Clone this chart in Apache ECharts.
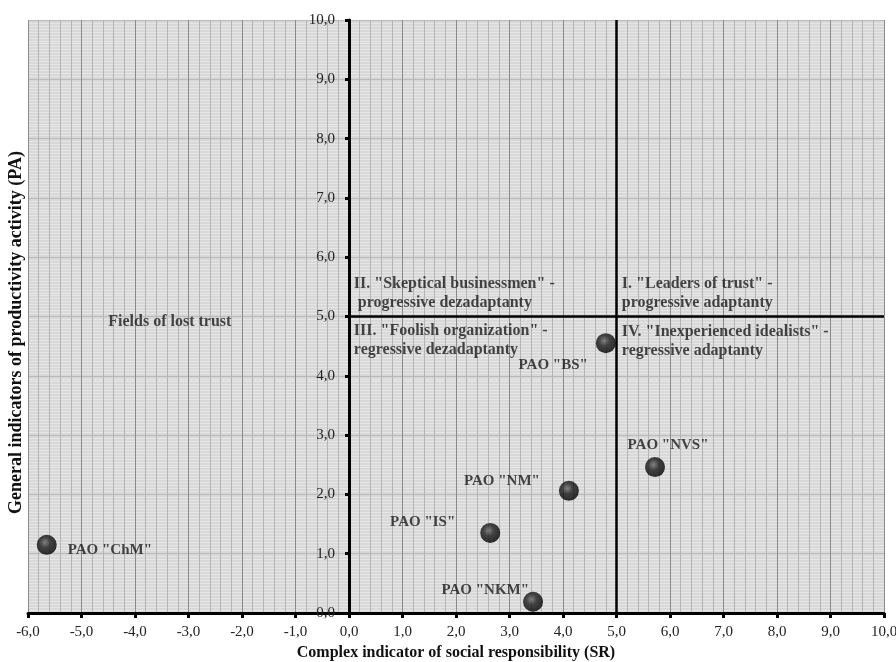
<!DOCTYPE html>
<html>
<head>
<meta charset="utf-8">
<script src="https://cdn.jsdelivr.net/npm/echarts@6/dist/echarts.min.js"></script>
<style>
html,body{margin:0;padding:0;background:#fff;}
#c{width:896px;height:662px;}
</style>
</head>
<body>
<div id="c"></div>
<script>
// Data
const companies = ['PAO "ChM"', 'PAO "BS"', 'PAO "NVS"', 'PAO "NM"', 'PAO "IS"', 'PAO "NKM"'];
const srValues = [-5.65, 4.80, 5.72, 4.11, 2.64, 3.44];
const paValues = [1.15, 4.55, 2.46, 2.06, 1.35, 0.19];
const xTicks = [-6, -5, -4, -3, -2, -1, 0, 1, 2, 3, 4, 5, 6, 7, 8, 9, 10];
const yTicks = [0, 1, 2, 3, 4, 5, 6, 7, 8, 9, 10];
const quadrantTexts = [
  'II. "Skeptical businessmen" -\n progressive dezadaptanty',
  'III. "Foolish organization" -\nregressive dezadaptanty',
  'I. "Leaders of trust" -\nprogressive adaptanty',
  'IV. "Inexperienced idealists" -\nregressive adaptanty',
  'Fields of lost trust'
];
const quadrantX = [0.09, 0.09, 5.10, 5.10, -4.50];
const quadrantY = [5.39, 4.59, 5.39, 4.58, 4.91];
const labelPositions = ['right', 'left', 'top', 'left', 'left', 'left'];
const labelOffsets = [[6, 5], [-3, 22], [13, 1], [-14, -10], [-20, -11], [11, -12]];

const fmt = v => v.toFixed(1).replace('.', ',');
const serif = '"Liberation Serif", "Times New Roman", serif';

const W = 896, gridLeft = 28, gridRight = 12;
const plotW = W - gridLeft - gridRight;
const yAxisOffset = -plotW * (0 - xTicks[0]) / (xTicks[xTicks.length - 1] - xTicks[0]);

const chart = echarts.init(document.getElementById('c'));
const pointData = companies.map((n, i) => ({
  value: [srValues[i], paValues[i]],
  name: n,
  label: {position: labelPositions[i], offset: labelOffsets[i]}
}));
const textData = quadrantTexts.map((t, i) => ({value: [quadrantX[i], quadrantY[i]], name: t}));

chart.setOption({
  animation: false,
  grid: {left: gridLeft, right: gridRight, top: 20, bottom: 49, show: true, backgroundColor: '#d8d8d8', borderWidth: 0,
         containLabel: false, outerBoundsMode: 'none'},
  xAxis: {
    type: 'value', min: xTicks[0], max: xTicks[xTicks.length - 1], interval: 1,
    name: 'Complex indicator of social responsibility (SR)',
    nameLocation: 'middle', nameGap: 31,
    nameTextStyle: {fontFamily: serif, fontWeight: 'bold', fontSize: 16, color: '#111'},
    axisLine: {onZero: false, lineStyle: {color: '#000', width: 3}},
    axisTick: {show: true, length: 5, lineStyle: {color: '#000', width: 3}},
    axisLabel: {formatter: fmt, fontFamily: serif, fontSize: 15, color: '#222', margin: 12},
    splitLine: {show: true, lineStyle: {color: '#8a8a8a', width: 1}},
    minorTick: {show: true, splitNumber: 5, length: 0},
    minorSplitLine: {show: true, lineStyle: {color: '#b4b4b4', width: 1}}
  },
  yAxis: {
    type: 'value', min: yTicks[0], max: yTicks[yTicks.length - 1], interval: 1,
    position: 'left', offset: yAxisOffset,
    name: 'General indicators of productivity activity (PA)',
    nameLocation: 'middle', nameGap: 324, nameRotate: 90,
    nameTextStyle: {fontFamily: serif, fontWeight: 'bold', fontSize: 18, color: '#111', padding: [0, 32, 0, 0]},
    axisLine: {onZero: false, lineStyle: {color: '#000', width: 3}},
    axisTick: {show: true, length: 4, lineStyle: {color: '#000', width: 3}},
    axisLabel: {formatter: fmt, fontFamily: serif, fontSize: 15, color: '#222', margin: 14},
    splitLine: {show: true, lineStyle: {color: '#b9b9b9', width: 1}},
    minorTick: {show: true, splitNumber: 20, length: 0},
    minorSplitLine: {show: true, lineStyle: {color: '#e6e6e6', width: 1}}
  },
  series: [
    {
      type: 'scatter',
      data: textData,
      symbolSize: 0,
      silent: true,
      label: {
        show: true, position: 'right', distance: 0,
        formatter: p => p.name,
        fontFamily: serif, fontWeight: 'bold', fontSize: 16, lineHeight: 19, color: '#1a1a1a'
      },
      markLine: {
        silent: true, symbol: 'none', animation: false,
        label: {show: false},
        lineStyle: {color: '#000', width: 2.5, type: 'solid'},
        data: [
          [{coord: [5, 0]}, {coord: [5, 10]}],
          [{coord: [0, 5]}, {coord: [10, 5]}]
        ]
      },
      z: 3
    },
    {
      type: 'scatter',
      data: pointData,
      symbolSize: 20,
      itemStyle: {
        color: {
          type: 'radial', x: 0.42, y: 0.38, r: 0.6,
          colorStops: [{offset: 0, color: '#6a6a6a'}, {offset: 0.45, color: '#1a1a1a'}, {offset: 1, color: '#000'}]
        }
      },
      label: {
        show: true, formatter: p => p.name,
        fontFamily: serif, fontWeight: 'bold', fontSize: 15, color: '#1a1a1a'
      },
      z: 5
    }
  ]
});
</script>
</body>
</html>
